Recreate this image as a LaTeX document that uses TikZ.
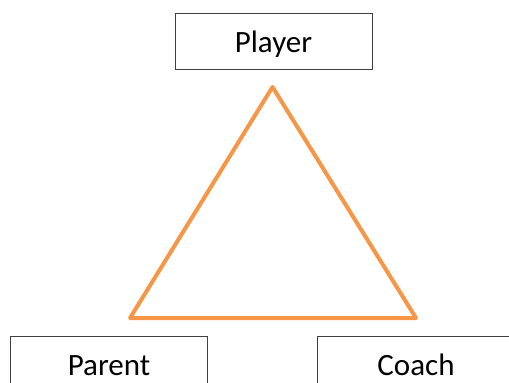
\documentclass[tikz,border=0pt]{standalone}
\usepackage{fontspec}
\setmainfont{Carlito}
\begin{document}
\begin{tikzpicture}[x=1pt,y=-1pt,
  rolebox/.style={draw=black!75,line width=1pt,minimum width=197pt,minimum height=56pt,inner sep=0pt,font=\fontsize{31}{36}\selectfont,text=black,text height=28pt,text depth=6pt},
  tri/.style={draw=triorange,line width=4pt,line join=round,line cap=round}]
\definecolor{triorange}{HTML}{F79646}
\useasboundingbox (0,0) rectangle (509,383);
\clip (0,0) rectangle (509,383);
\node[rolebox] (player) at (273.5,41) {Player};
\node[rolebox] (parent) at (109,364) {Parent};
\node[rolebox] (coach) at (416,364) {Coach};
\coordinate (top) at (272.5,87);
\coordinate (bl) at (130,318);
\coordinate (br) at (416,318);
\draw[tri] (top) -- (bl) -- (br) -- cycle;
\end{tikzpicture}
\end{document}
